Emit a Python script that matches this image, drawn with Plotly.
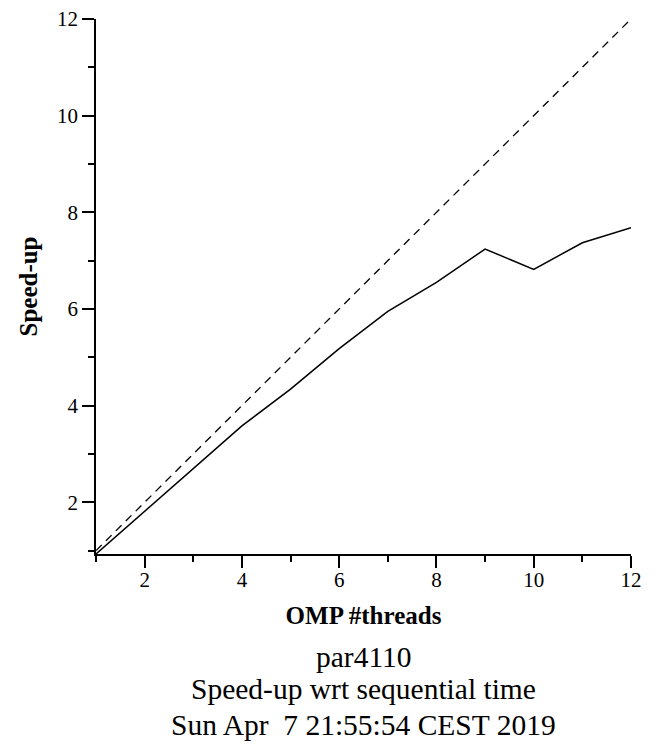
import plotly.graph_objects as go

threads = [1, 2, 3, 4, 5, 6, 7, 8, 9, 10, 11, 12]
speedup = [0.93, 1.81, 2.70, 3.58, 4.34, 5.18, 5.95, 6.55, 7.24, 6.82, 7.37, 7.68]
ideal = [1, 2, 3, 4, 5, 6, 7, 8, 9, 10, 11, 12]

title_lines = ["par4110", "Speed-up wrt sequential time", "Sun Apr &nbsp;7 21:55:54 CEST 2019"]

serif = "Liberation Serif, Times New Roman, serif"

fig = go.Figure()
fig.add_trace(go.Scatter(x=threads, y=ideal, mode="lines",
                         line=dict(color="black", width=1.3, dash="8px,6px")))
fig.add_trace(go.Scatter(x=threads, y=speedup, mode="lines",
                         line=dict(color="black", width=1.5)))

axis_style = dict(showgrid=False, zeroline=False, showline=True, linecolor="black", linewidth=1.5,
                  ticks="outside", ticklen=12, tickwidth=1.5, tickcolor="black",
                  ticklabeloverflow="allow",
                  tickfont=dict(family=serif, size=21, color="black"))

fig.update_xaxes(range=[1, 12], tick0=2, dtick=2, ticklabelstandoff=-6,
                 minor=dict(tick0=1, dtick=1, ticks="outside", ticklen=6, tickcolor="black", tickwidth=1.5),
                 title=dict(text="<b>OMP #threads</b>", font=dict(family=serif, size=25, color="black"), standoff=16),
                 **axis_style)
fig.update_yaxes(range=[0.93, 12], tick0=2, dtick=2,
                 minor=dict(tick0=1, dtick=1, ticks="outside", ticklen=6, tickcolor="black", tickwidth=1.5),
                 title=dict(text="<b>Speed-up</b>", font=dict(family=serif, size=25, color="black"), standoff=12),
                 **axis_style)

# three title lines under the plot, a bit tighter than plotly's <br> spacing
for line, ypos in zip(title_lines, [-0.1925, -0.2523, -0.3200]):
    fig.add_annotation(text=line, xref="paper", yref="paper", x=0.5, y=ypos,
                       xanchor="center", yanchor="middle", showarrow=False,
                       font=dict(family=serif, size=29.5, color="black"))

# page body adds 8px, so margins are shifted by that amount
fig.update_layout(width=663, height=754, showlegend=False,
                  plot_bgcolor="white", paper_bgcolor="white",
                  margin=dict(l=88, r=40, t=11, b=208, autoexpand=False))

fig.write_html("out.html")
